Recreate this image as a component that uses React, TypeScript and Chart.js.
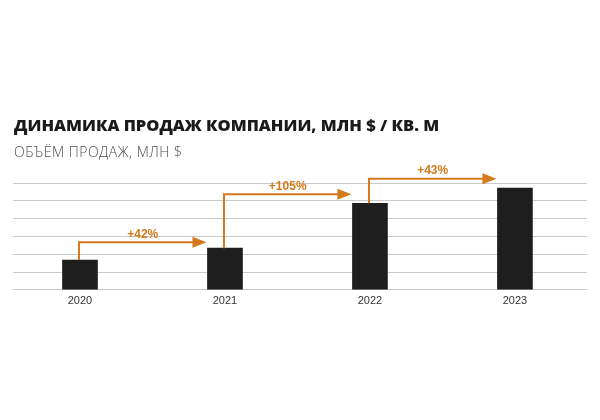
import React, { useEffect, useRef } from "react";
import { Chart, registerables } from "chart.js";

Chart.register(...registerables);

const years = ["2020", "2021", "2022", "2023"];
const sales = [1.67, 2.34, 4.86, 5.71];
const growthLabels = ["+42%", "+105%", "+43%"];
const arrowLevels = [2.67, 5.37, 6.24];
const titleText = "ДИНАМИКА ПРОДАЖ КОМПАНИИ, МЛН $ / КВ. М";
const subtitleText = "ОБЪЁМ ПРОДАЖ, МЛН $";

const ORANGE = "#D47A1C";
const BAR_W = 35;

const overlayPlugin = {
  id: "overlay",
  afterDraw(chart: any) {
    const ctx = chart.ctx;
    ctx.save();
    ctx.textBaseline = "alphabetic";
    ctx.textAlign = "left";
    ctx.fillStyle = "#1a1a1a";
    ctx.font = "800 16.5px 'Open Sans'";
    ctx.fillText(titleText, 14, 131);
    ctx.fillStyle = "#4d4d4d";
    ctx.font = "300 14px 'Open Sans'";
    try { (ctx as any).letterSpacing = "0.5px"; } catch (e) {}
    ctx.fillText(subtitleText, 14, 157);
    ctx.restore();
  },
  afterDatasetsDraw(chart: any) {
    const ctx = chart.ctx;
    const xs = chart.scales.x;
    const ys = chart.scales.y;
    ctx.save();
    ctx.strokeStyle = ORANGE;
    ctx.fillStyle = ORANGE;
    ctx.lineWidth = 2;
    for (let i = 0; i < growthLabels.length; i++) {
      const x0 = xs.getPixelForValue(i) - 1;
      const yTop = ys.getPixelForValue(sales[i]);
      const yL = ys.getPixelForValue(arrowLevels[i]);
      const xTip = xs.getPixelForValue(i + 1) - BAR_W / 2 - 1;
      const headLen = 14;
      ctx.beginPath();
      ctx.moveTo(x0, yTop);
      ctx.lineTo(x0, yL);
      ctx.lineTo(xTip - headLen + 1, yL);
      ctx.stroke();
      ctx.beginPath();
      ctx.moveTo(xTip, yL);
      ctx.lineTo(xTip - headLen, yL - 5.5);
      ctx.lineTo(xTip - headLen, yL + 5.5);
      ctx.closePath();
      ctx.fill();
      ctx.font = "bold 12px 'Liberation Sans', Arial, sans-serif";
      ctx.textAlign = "center";
      ctx.textBaseline = "middle";
      ctx.fillText(growthLabels[i], (x0 + xTip) / 2, yL - 8);
    }
    ctx.restore();
  },
};

export default function App() {
  const ref = useRef<HTMLCanvasElement>(null);
  useEffect(() => {
    if (!ref.current) return;
    const chart = new Chart(ref.current, {
      type: "bar",
      data: {
        datasets: [
          {
            data: years.map((_, i) => ({ x: i, y: sales[i] })),
            backgroundColor: "#1e1e1e",
            barThickness: BAR_W,
          },
        ],
      },
      options: {
        responsive: false,
        animation: false,
        devicePixelRatio: 1,
        layout: { padding: { top: 183, left: 13, right: 13, bottom: 107 } },
        plugins: { legend: { display: false }, tooltip: { enabled: false }, title: { display: false } },
        scales: {
          x: {
            type: "linear",
            offset: false,
            min: -0.462,
            max: 3.497,
            grid: { display: false, drawTicks: false, offset: false },
            border: { display: false },
            afterBuildTicks: (scale: any) => {
              scale.ticks = years.map((_, i) => ({ value: i }));
            },
            ticks: {
              autoSkip: false,
              padding: 5,
              color: "#333333",
              font: { family: "'Liberation Sans', Arial, sans-serif", size: 11 },
              callback: (v: any) => years[v as number] ?? "",
            },
          },
          y: {
            min: 0,
            max: 6,
            ticks: { display: false, stepSize: 1 },
            grid: { color: "#c9c9c9", lineWidth: 1, drawTicks: false, tickLength: 0 },
            border: { display: false },
          },
        },
      },
      plugins: [overlayPlugin],
    } as any);
    return () => chart.destroy();
  }, []);
  return (
    <div style={{ position: "absolute", left: 0, top: 0, width: 600, height: 420, background: "#fff" }}>
      <canvas ref={ref} width={600} height={420} />
    </div>
  );
}
